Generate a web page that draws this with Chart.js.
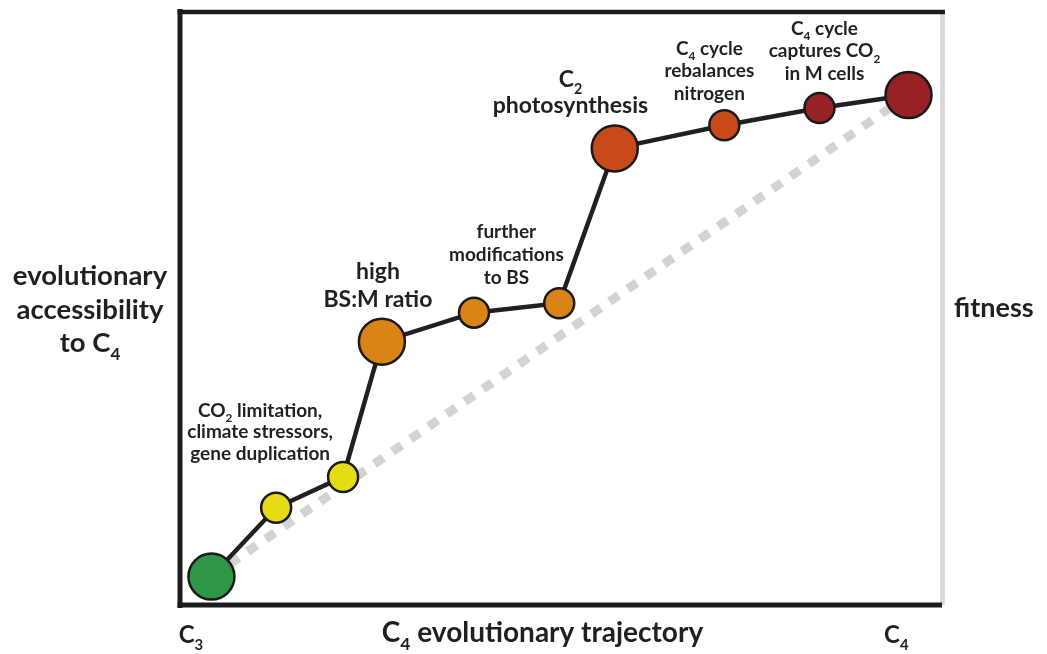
<!DOCTYPE html>
<html>
<head>
<meta charset="utf-8">
<script src="https://cdn.jsdelivr.net/npm/chart.js@4"></script>
<style>
  html, body { margin: 0; padding: 0; background: #fff; }
  #wrap { width: 1047px; height: 654px; }
</style>
</head>
<body>
<div id="wrap"><canvas id="chart" width="1047" height="654"></canvas></div>
<script>
// stages along the C4 evolutionary trajectory (x) vs accessibility (y), 0..100
const stageX = [4.0, 12.5, 21.3, 26.4, 38.5, 49.7, 57.0, 71.4, 83.9, 95.6];
const stageY = [4.8, 16.4, 21.6, 44.4, 49.3, 50.9, 77.0, 80.9, 83.8, 86.0];
const stageMajor = [true, false, false, true, false, false, true, false, false, true];
const stageColor = ["#2d9647", "#e5dc15", "#e5dc15", "#da8316", "#da8316", "#da8316",
                    "#c94a19", "#c94a19", "#982125", "#982125"];
// "_n" marks a subscript digit
const stageNotes = [
  null,
  null,
  ["CO_2 limitation,", "climate stressors,", "gene duplication"],
  ["high", "BS:M ratio"],
  ["further", "modifications", "to BS"],
  null,
  ["C_2", "photosynthesis"],
  ["C_4 cycle", "rebalances", "nitrogen"],
  ["C_4 cycle", "captures CO_2", "in M cells"],
  null,
];
// straight fitness reference, C3 -> C4
const fitnessX = [4.0, 95.6];
const fitnessY = [4.8, 86.0];
// x axis end labels
const trackTickValues = [1.3, 94.0];
const trackTickLabels = ["C_3", "C_4"];
const xTitle = "C_4 evolutionary trajectory";
const yTitle = ["evolutionary", "accessibility", "to C_4"];
const y2Title = "fitness";

// note placement, relative to the stage point (last line baseline)
const noteStyle = {
  2: { dx: -83, dy: -17, size: 19, lh: 21.7 },
  3: { dx: -4, dy: -34.4, size: 23, lh: 28 },
  4: { dx: 32.4, dy: -28.4, size: 19, lh: 23 },
  6: { dx: -44.3, dy: -35, size: 23, lh: 26 },
  7: { dx: -15, dy: -25.7, size: 19, lh: 22.5 },
  8: { dx: 5, dy: -28.3, size: 19, lh: 22.5 },
};

const INK = "#231f20";
const fontOf = (size, weight) => `${weight || "bold"} ${size}px Lato, "Open Sans", sans-serif`;

function drawRich(ctx, text, x, y, size, align) {
  const parts = text.split(/_(\d)/);
  const sub = size * 0.62;
  let w = 0;
  parts.forEach((p, i) => {
    ctx.font = fontOf(i % 2 ? sub : size);
    w += ctx.measureText(p).width;
  });
  let cx = align === "left" ? x : x - w / 2;
  ctx.textAlign = "left";
  ctx.textBaseline = "alphabetic";
  parts.forEach((p, i) => {
    const isSub = i % 2 === 1;
    ctx.font = fontOf(isSub ? sub : size);
    ctx.fillText(p, cx, y + (isSub ? size * 0.3 : 0));
    cx += ctx.measureText(p).width;
  });
}

const framePlugin = {
  id: "frame",
  beforeDatasetsDraw(chart) {
    const { ctx, chartArea: a } = chart;
    ctx.save();
    ctx.lineCap = "butt";
    // right (fitness) axis, light grey
    ctx.strokeStyle = "#d6d6d6";
    ctx.lineWidth = 4.5;
    ctx.beginPath();
    ctx.moveTo(a.right + 0.5, a.top);
    ctx.lineTo(a.right + 0.5, a.bottom);
    ctx.stroke();
    // left, top, bottom in black
    ctx.strokeStyle = "#1c1c1c";
    ctx.lineWidth = 5;
    ctx.beginPath();
    ctx.moveTo(a.left - 1, a.top - 3);
    ctx.lineTo(a.left - 1, a.bottom + 3);
    ctx.stroke();
    ctx.lineWidth = 4.5;
    ctx.beginPath();
    ctx.moveTo(a.left - 3.5, a.top);
    ctx.lineTo(a.right + 3, a.top);
    ctx.stroke();
    ctx.lineWidth = 5;
    ctx.beginPath();
    ctx.moveTo(a.left - 3.5, a.bottom);
    ctx.lineTo(a.right, a.bottom);
    ctx.stroke();
    ctx.restore();
  },
  afterDatasetsDraw(chart) {
    const { ctx, chartArea: a, scales } = chart;
    ctx.save();
    ctx.fillStyle = INK;
    stageNotes.forEach((lines, i) => {
      if (!lines) return;
      const st = noteStyle[i];
      const px = scales.x.getPixelForValue(stageX[i]) + st.dx;
      const py = scales.y.getPixelForValue(stageY[i]) + st.dy;
      lines.forEach((ln, k) => {
        drawRich(ctx, ln, px, py - (lines.length - 1 - k) * st.lh, st.size);
      });
    });
    // axis titles
    yTitle.forEach((ln, k) => drawRich(ctx, ln, 90, 285 + k * 33.5, 27.5));
    drawRich(ctx, y2Title, a.right + 12, 316.7, 27, "left");
    drawRich(ctx, xTitle, 542.5, a.bottom + 37, 28);
    trackTickValues.forEach((v, k) => {
      drawRich(ctx, trackTickLabels[k], scales.x.getPixelForValue(v), a.bottom + 38, 24);
    });
    ctx.restore();
  },
};

new Chart(document.getElementById("chart"), {
  type: "scatter",
  data: {
    datasets: [
      {
        label: "trajectory",
        data: stageX.map((x, i) => ({ x, y: stageY[i] })),
        showLine: true,
        borderColor: INK,
        borderWidth: 4.5,
        pointRadius: stageMajor.map((m) => (m ? 23 : 15)),
        pointBackgroundColor: stageColor,
        pointBorderColor: "#1a1a1a",
        pointBorderWidth: 2.5,
        clip: false,
        order: 0,
      },
      {
        label: "fitness",
        data: fitnessX.map((x, i) => ({ x, y: fitnessY[i] })),
        showLine: true,
        borderColor: "#d3d3d3",
        borderWidth: 9,
        borderDash: [11, 11],
        borderCapStyle: "butt",
        pointRadius: 0,
        clip: false,
        order: 1,
      },
    ],
  },
  options: {
    responsive: false,
    animation: false,
    events: [],
    layout: {
      autoPadding: false,
      padding: { left: 181, right: 1047 - 942, top: 12, bottom: 654 - 605 },
    },
    scales: {
      x: { type: "linear", min: 0, max: 100, display: false },
      y: { type: "linear", min: 0, max: 100, display: false },
    },
    plugins: {
      legend: { display: false },
      tooltip: { enabled: false },
    },
  },
  plugins: [framePlugin],
});
</script>
</body>
</html>
